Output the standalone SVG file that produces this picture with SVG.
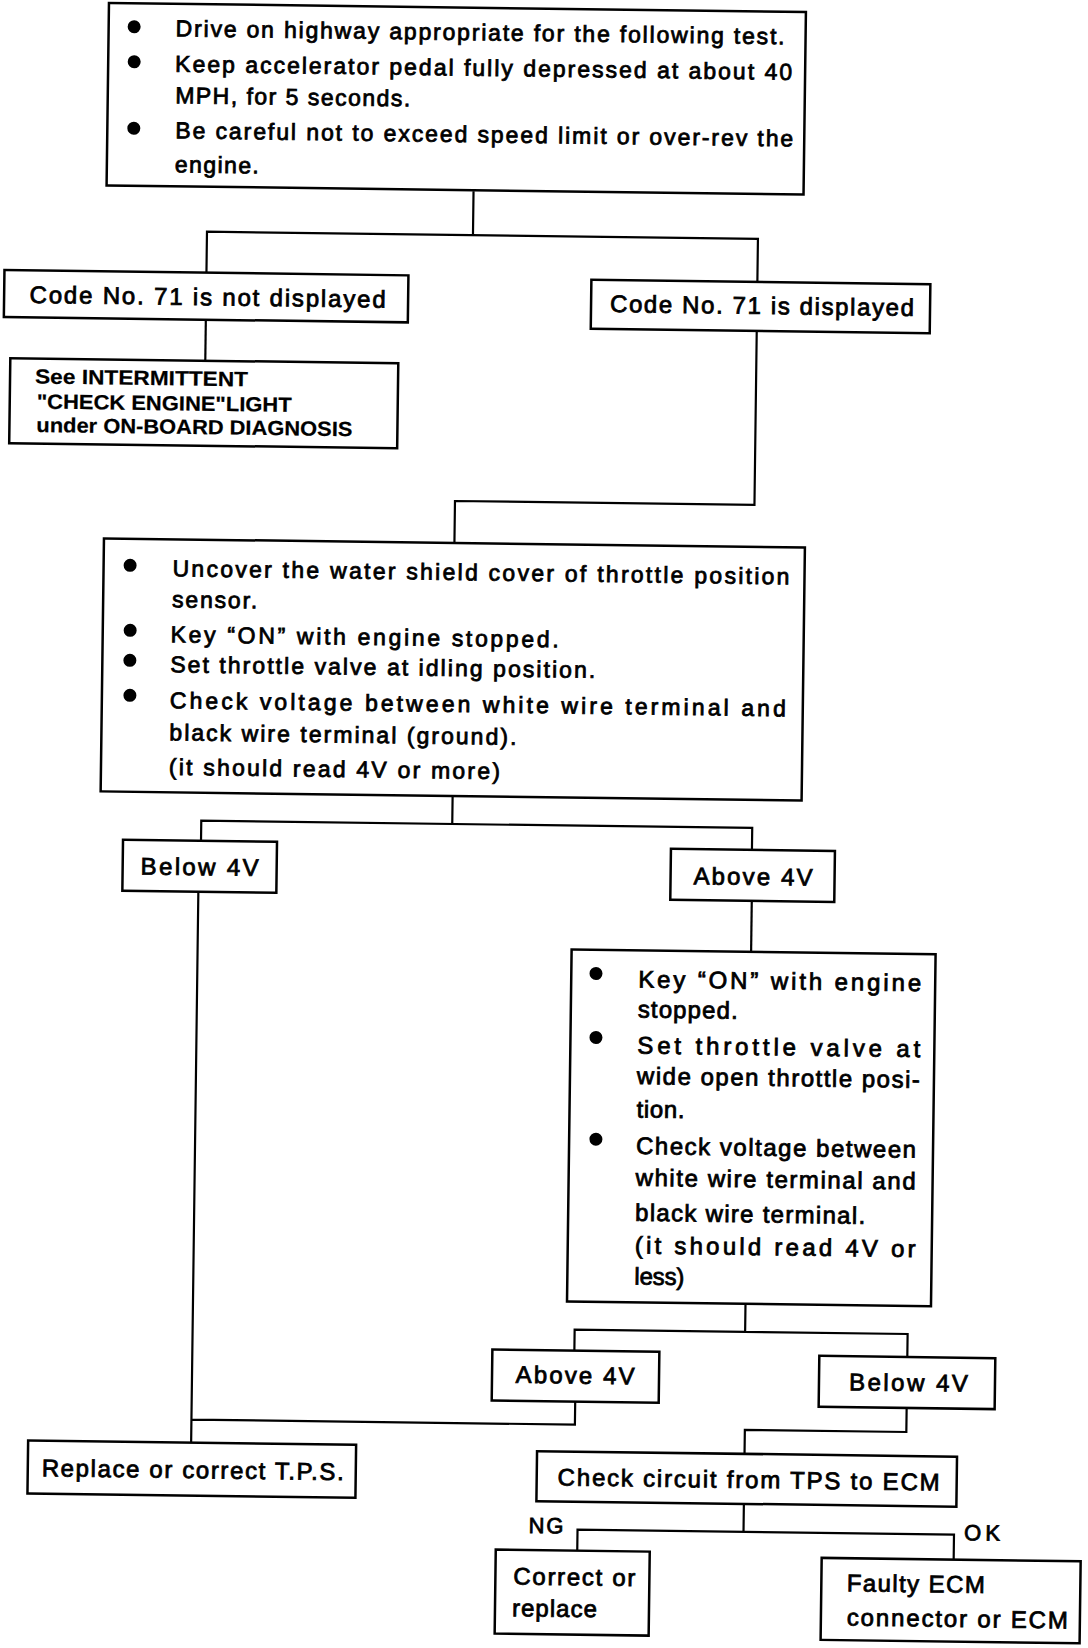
<svg xmlns="http://www.w3.org/2000/svg" width="1088" height="1648" viewBox="0 0 1088 1648">
<style>
.box{fill:#fff;stroke:#000;stroke-width:2.5}
.ln{fill:none;stroke:#000;stroke-width:2.2}
text{font-family:"Liberation Sans",Arial,Helvetica,sans-serif;font-weight:normal;fill:#000;stroke:#000;stroke-width:0.8}
.t23{font-size:23px}
.t24{font-size:24px}
.t20{font-size:20.5px;font-weight:bold;stroke-width:0.2}
.t22{font-size:22px}
.dot{fill:#000}
</style>
<rect width="1088" height="1648" fill="#fff"/>
<g transform="rotate(0.75)">
<g id="connectors">
<path class="ln" d="M476,185 V229 M210,270 V229 H761 V272"/>
<path class="ln" d="M210,317 V358"/>
<path class="ln" d="M761,321 V495 H461.5 V537"/>
<path class="ln" d="M463,790 V818 M212,838 V818 H763 V840"/>
<path class="ln" d="M210,889 V1440 M210,1417 H593.5 V1394"/>
<path class="ln" d="M763.5,891 V942"/>
<path class="ln" d="M762.5,1294 V1322 M592,1343 V1322 H925 V1345"/>
<path class="ln" d="M925,1396 V1420 H763.5 V1444"/>
<path class="ln" d="M763.5,1494 V1522 M597.5,1543 V1522 H974 V1547"/>
</g>
<g id="n_drive">
<rect class="box" x="109" y="1.5" width="697" height="182.5"/>
<circle class="dot" cx="134.5" cy="25" r="6.5"/>
<circle class="dot" cx="135" cy="60" r="6.5"/>
<circle class="dot" cx="135.5" cy="126.5" r="6.5"/>
<text class="t23" x="176" y="34" textLength="609" lengthAdjust="spacing">Drive on highway appropriate for the following test.</text>
<text class="t23" x="176" y="69.5" textLength="617" lengthAdjust="spacing">Keep accelerator pedal fully depressed at about 40</text>
<text class="t23" x="176.5" y="101" textLength="235" lengthAdjust="spacing">MPH, for 5 seconds.</text>
<text class="t23" x="177" y="136" textLength="618" lengthAdjust="spacing">Be careful not to exceed speed limit or over-rev the</text>
<text class="t23" x="177" y="170" textLength="84" lengthAdjust="spacing">engine.</text>
</g>
<g id="n_not_displayed">
<rect class="box" x="8" y="270" width="404" height="47"/>
<text class="t24" x="33.5" y="302.5" textLength="356" lengthAdjust="spacing">Code No. 71 is not displayed</text>
</g>
<g id="n_displayed">
<rect class="box" x="595" y="272" width="339" height="49"/>
<text class="t24" x="614" y="304" textLength="304" lengthAdjust="spacing">Code No. 71 is displayed</text>
</g>
<g id="n_intermittent">
<rect class="box" x="15" y="358" width="388" height="85"/>
<text class="t20" x="40" y="383" textLength="213" lengthAdjust="spacingAndGlyphs">See INTERMITTENT</text>
<text class="t20" x="42" y="408" textLength="255" lengthAdjust="spacingAndGlyphs">"CHECK ENGINE"LIGHT</text>
<text class="t20" x="42" y="431.5" textLength="316" lengthAdjust="spacingAndGlyphs">under ON-BOARD DIAGNOSIS</text>
</g>
<g id="n_uncover">
<rect class="box" x="111" y="537" width="701" height="253"/>
<circle class="dot" cx="137.5" cy="563.6" r="6.5"/>
<circle class="dot" cx="138.4" cy="628.6" r="6.5"/>
<circle class="dot" cx="138.5" cy="658.6" r="6.5"/>
<circle class="dot" cx="139" cy="693.6" r="6.5"/>
<text class="t23" x="180" y="574" textLength="617" lengthAdjust="spacing">Uncover the water shield cover of throttle position</text>
<text class="t23" x="180" y="605" textLength="85" lengthAdjust="spacing">sensor.</text>
<text class="t23" x="179" y="640" textLength="388" lengthAdjust="spacing">Key “ON” with engine stopped.</text>
<text class="t23" x="179" y="670" textLength="425" lengthAdjust="spacing">Set throttle valve at idling position.</text>
<text class="t23" x="179" y="706" textLength="616" lengthAdjust="spacing">Check voltage between white wire terminal and</text>
<text class="t23" x="179" y="738" textLength="347" lengthAdjust="spacing">black wire terminal (ground).</text>
<text class="t23" x="179" y="772.5" textLength="331" lengthAdjust="spacing">(it should read 4V or more)</text>
</g>
<g id="n_below1">
<rect class="box" x="134" y="838" width="154" height="51"/>
<text class="t24" x="152" y="872.5" textLength="118" lengthAdjust="spacing">Below 4V</text>
</g>
<g id="n_above1">
<rect class="box" x="682" y="840" width="164" height="51"/>
<text class="t24" x="705" y="875" textLength="119" lengthAdjust="spacing">Above 4V</text>
</g>
<g id="n_wot">
<rect class="box" x="584" y="942" width="364" height="352"/>
<circle class="dot" cx="608.7" cy="965.6" r="6.5"/>
<circle class="dot" cx="609.5" cy="1029.6" r="6.5"/>
<circle class="dot" cx="610.8" cy="1131.3" r="6.5"/>
<text class="t24" x="651" y="979" textLength="283" lengthAdjust="spacing">Key “ON” with engine</text>
<text class="t24" x="651" y="1009" textLength="100" lengthAdjust="spacing">stopped.</text>
<text class="t24" x="651" y="1045" textLength="283" lengthAdjust="spacing">Set throttle valve at</text>
<text class="t24" x="651" y="1075.7" textLength="283" lengthAdjust="spacing">wide open throttle posi-</text>
<text class="t24" x="651" y="1109" textLength="48" lengthAdjust="spacing">tion.</text>
<text class="t24" x="651" y="1145.7" textLength="280" lengthAdjust="spacing">Check voltage between</text>
<text class="t24" x="651" y="1177.4" textLength="280" lengthAdjust="spacing">white wire terminal and</text>
<text class="t24" x="651" y="1212.4" textLength="230" lengthAdjust="spacing">black wire terminal.</text>
<text class="t24" x="651" y="1245" textLength="281" lengthAdjust="spacing">(it should read 4V or</text>
<text class="t24" x="651" y="1276" textLength="50" lengthAdjust="spacing">less)</text>
</g>
<g id="n_above2">
<rect class="box" x="510" y="1343" width="167" height="51"/>
<text class="t24" x="533.6" y="1376" textLength="119" lengthAdjust="spacing">Above 4V</text>
</g>
<g id="n_below2">
<rect class="box" x="837" y="1345" width="176" height="51"/>
<text class="t24" x="867" y="1379" textLength="119" lengthAdjust="spacing">Below 4V</text>
</g>
<g id="n_replace_tps">
<rect class="box" x="47" y="1440" width="328" height="53"/>
<text class="t24" x="61" y="1475.5" textLength="302" lengthAdjust="spacing">Replace or correct T.P.S.</text>
</g>
<g id="n_check_circuit">
<rect class="box" x="556" y="1444" width="420" height="50"/>
<text class="t24" x="577" y="1478" textLength="382" lengthAdjust="spacing">Check circuit from TPS to ECM</text>
</g>
<g id="labels">
<text class="t22" x="548.5" y="1526" textLength="35" lengthAdjust="spacing">NG</text>
<text class="t22" x="984" y="1527.5" textLength="36" lengthAdjust="spacing">OK</text>
</g>
<g id="n_correct">
<rect class="box" x="516" y="1543" width="154" height="84"/>
<text class="t24" x="534" y="1577.6" textLength="122" lengthAdjust="spacing">Correct or</text>
<text class="t24" x="533" y="1609.3" textLength="85" lengthAdjust="spacing">replace</text>
</g>
<g id="n_faulty">
<rect class="box" x="842" y="1547" width="259" height="82"/>
<text class="t24" x="867.5" y="1580" textLength="138" lengthAdjust="spacing">Faulty ECM</text>
<text class="t24" x="868" y="1614.3" textLength="221" lengthAdjust="spacing">connector or ECM</text>
</g>
</g>
</svg>
